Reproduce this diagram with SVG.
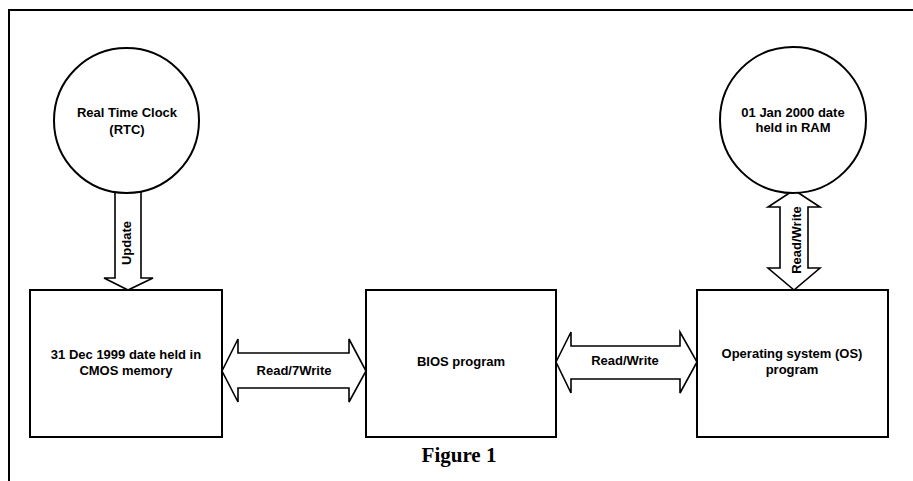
<svg xmlns="http://www.w3.org/2000/svg" width="913" height="481" viewBox="0 0 913 481">
<style>
.frame{fill:none;stroke:#000;stroke-width:2}
.node{fill:#fff;stroke:#000;stroke-width:2}
.arrow{fill:#fff;stroke:#000;stroke-width:1.6;stroke-linejoin:miter}
.lbl{font-family:"Liberation Sans",Arial,sans-serif;font-weight:bold;font-size:13px;fill:#000;text-anchor:middle}
.cap{font-family:"Liberation Serif","Times New Roman",serif;font-weight:bold;font-size:21px;fill:#000;text-anchor:middle}
</style>
<rect width="913" height="481" fill="#fff"/>
<path class="frame" d="M9,481 V10 H913"/>
<g id="connectors">
  <g id="update-arrow">
    <path class="arrow" d="M115,190 V278 H104 L128,290 L153,278 H141 V190"/>
    <text class="lbl" transform="translate(131,243) rotate(-90)">Update</text>
  </g>
  <g id="ram-os-arrow">
    <path class="arrow" d="M794,190 L820,207 H808 V268 H820 L794,290 L768,268 H780 V207 H768 Z"/>
    <text class="lbl" transform="translate(801,240) rotate(-90)">Read/Write</text>
  </g>
  <g id="cmos-bios-arrow">
    <path class="arrow" d="M222,371 L238,339 V353 H349 V339 L366,371 L349,402 V388 H238 V402 Z"/>
    <text class="lbl" x="294" y="375">Read/7Write</text>
  </g>
  <g id="bios-os-arrow">
    <path class="arrow" d="M556,362 L571,332 V346 H680 V332 L697,362 L680,393 V379 H571 V393 Z"/>
    <text class="lbl" x="625" y="365">Read/Write</text>
  </g>
</g>
<g id="rtc">
  <circle class="node" cx="126.5" cy="120.5" r="72.5"/>
  <text class="lbl" x="127" y="117">Real Time Clock</text>
  <text class="lbl" x="127" y="134">(RTC)</text>
</g>
<g id="ram">
  <circle class="node" cx="793" cy="120" r="73"/>
  <text class="lbl" x="793" y="117">01 Jan 2000 date</text>
  <text class="lbl" x="793" y="132">held in RAM</text>
</g>
<g id="cmos">
  <rect class="node" x="30" y="290" width="192" height="147"/>
  <text class="lbl" x="126" y="359">31 Dec 1999 date held in</text>
  <text class="lbl" x="126" y="375">CMOS memory</text>
</g>
<g id="bios">
  <rect class="node" x="366" y="290" width="190" height="147"/>
  <text class="lbl" x="461" y="366">BIOS program</text>
</g>
<g id="os">
  <rect class="node" x="697" y="290" width="191" height="147"/>
  <text class="lbl" x="792" y="358">Operating system (OS)</text>
  <text class="lbl" x="792" y="374">program</text>
</g>
<text id="caption" class="cap" x="459" y="462">Figure 1</text>
</svg>
